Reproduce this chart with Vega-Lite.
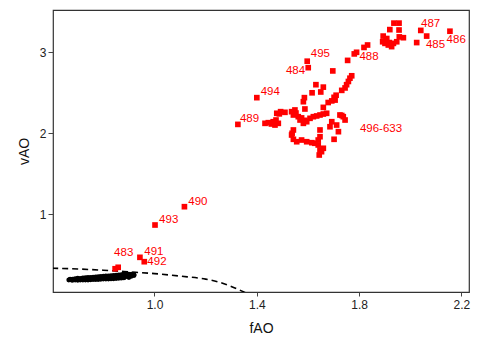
{
  "$schema": "https://vega.github.io/schema/vega-lite/v6.json",
  "width": 416,
  "height": 282,
  "autosize": {"type": "none"},
  "padding": {"left": 53, "top": 10, "right": 22, "bottom": 47},
  "background": "white",
  "config": {
    "view": {"stroke": "#333", "strokeWidth": 1.2},
    "font": "Liberation Sans",
    "axis": {
      "domain": false,
      "grid": false,
      "labelFont": "Liberation Sans",
      "labelFontSize": 12,
      "labelColor": "#222",
      "tickColor": "#444",
      "titleFont": "Liberation Sans",
      "titleFontSize": 14,
      "titleFontWeight": "normal",
      "titleColor": "#111"
    }
  },
  "datasets": {
    "curve": [
      {"x": 0.60, "y": 0.335}, {"x": 0.70, "y": 0.325}, {"x": 0.80, "y": 0.31},
      {"x": 0.90, "y": 0.29}, {"x": 1.00, "y": 0.268}, {"x": 1.10, "y": 0.237},
      {"x": 1.20, "y": 0.20}, {"x": 1.25, "y": 0.165}, {"x": 1.30, "y": 0.11},
      {"x": 1.34, "y": 0.055}, {"x": 1.37, "y": 0.01}
    ],
    "black": [
      {"x": 0.665, "y": 0.19}, {"x": 0.67, "y": 0.2}, {"x": 0.675, "y": 0.19}, {"x": 0.68, "y": 0.185}, {"x": 0.68, "y": 0.2},
      {"x": 0.685, "y": 0.195}, {"x": 0.69, "y": 0.19}, {"x": 0.69, "y": 0.205}, {"x": 0.695, "y": 0.195}, {"x": 0.70, "y": 0.185}, {"x": 0.70, "y": 0.2},
      {"x": 0.70, "y": 0.21}, {"x": 0.705, "y": 0.195}, {"x": 0.71, "y": 0.19}, {"x": 0.71, "y": 0.207}, {"x": 0.715, "y": 0.2},
      {"x": 0.72, "y": 0.19}, {"x": 0.72, "y": 0.205}, {"x": 0.72, "y": 0.215}, {"x": 0.725, "y": 0.197},
      {"x": 0.73, "y": 0.19}, {"x": 0.73, "y": 0.205}, {"x": 0.73, "y": 0.218}, {"x": 0.735, "y": 0.198},
      {"x": 0.74, "y": 0.19}, {"x": 0.74, "y": 0.205}, {"x": 0.74, "y": 0.22}, {"x": 0.745, "y": 0.2},
      {"x": 0.75, "y": 0.192}, {"x": 0.75, "y": 0.207}, {"x": 0.75, "y": 0.222}, {"x": 0.755, "y": 0.2},
      {"x": 0.76, "y": 0.195}, {"x": 0.76, "y": 0.21}, {"x": 0.76, "y": 0.225}, {"x": 0.765, "y": 0.203},
      {"x": 0.77, "y": 0.195}, {"x": 0.77, "y": 0.212}, {"x": 0.77, "y": 0.228}, {"x": 0.775, "y": 0.205},
      {"x": 0.78, "y": 0.195}, {"x": 0.78, "y": 0.21}, {"x": 0.78, "y": 0.23}, {"x": 0.785, "y": 0.208},
      {"x": 0.79, "y": 0.198}, {"x": 0.79, "y": 0.22}, {"x": 0.79, "y": 0.232}, {"x": 0.795, "y": 0.21},
      {"x": 0.80, "y": 0.2}, {"x": 0.80, "y": 0.215}, {"x": 0.80, "y": 0.235}, {"x": 0.805, "y": 0.212},
      {"x": 0.81, "y": 0.2}, {"x": 0.81, "y": 0.225}, {"x": 0.81, "y": 0.238}, {"x": 0.815, "y": 0.215},
      {"x": 0.82, "y": 0.2}, {"x": 0.82, "y": 0.22}, {"x": 0.82, "y": 0.24}, {"x": 0.825, "y": 0.218},
      {"x": 0.83, "y": 0.203}, {"x": 0.83, "y": 0.23}, {"x": 0.83, "y": 0.243}, {"x": 0.835, "y": 0.22},
      {"x": 0.84, "y": 0.205}, {"x": 0.84, "y": 0.225}, {"x": 0.84, "y": 0.245}, {"x": 0.845, "y": 0.222},
      {"x": 0.85, "y": 0.207}, {"x": 0.85, "y": 0.235}, {"x": 0.85, "y": 0.248}, {"x": 0.855, "y": 0.225},
      {"x": 0.86, "y": 0.21}, {"x": 0.86, "y": 0.23}, {"x": 0.86, "y": 0.25}, {"x": 0.865, "y": 0.228},
      {"x": 0.87, "y": 0.212}, {"x": 0.87, "y": 0.24}, {"x": 0.87, "y": 0.255}, {"x": 0.875, "y": 0.232},
      {"x": 0.88, "y": 0.215}, {"x": 0.88, "y": 0.235}, {"x": 0.88, "y": 0.255}, {"x": 0.88, "y": 0.27},
      {"x": 0.885, "y": 0.225}, {"x": 0.89, "y": 0.245}, {"x": 0.89, "y": 0.262}, {"x": 0.895, "y": 0.235},
      {"x": 0.90, "y": 0.22}, {"x": 0.90, "y": 0.24}, {"x": 0.90, "y": 0.26}, {"x": 0.905, "y": 0.25},
      {"x": 0.91, "y": 0.235}, {"x": 0.91, "y": 0.26}, {"x": 0.915, "y": 0.25}, {"x": 0.92, "y": 0.245}, {"x": 0.92, "y": 0.258}
    ],
    "red": [
      {"x": 1.936, "y": 3.36}, {"x": 1.956, "y": 3.36}, {"x": 1.920, "y": 3.28}, {"x": 1.956, "y": 3.275},
      {"x": 1.894, "y": 3.20}, {"x": 1.908, "y": 3.17}, {"x": 1.892, "y": 3.13}, {"x": 1.901, "y": 3.11},
      {"x": 1.914, "y": 3.09}, {"x": 1.927, "y": 3.07}, {"x": 1.934, "y": 3.11}, {"x": 1.947, "y": 3.13},
      {"x": 1.957, "y": 3.19}, {"x": 1.973, "y": 3.18}, {"x": 1.905, "y": 3.14}, {"x": 1.918, "y": 3.12},
      {"x": 2.041, "y": 3.27}, {"x": 2.064, "y": 3.20}, {"x": 2.025, "y": 3.12}, {"x": 2.155, "y": 3.26},
      {"x": 1.833, "y": 3.09}, {"x": 1.819, "y": 3.06}, {"x": 1.790, "y": 3.00}, {"x": 1.781, "y": 2.98},
      {"x": 1.755, "y": 2.90},
      {"x": 1.597, "y": 2.89}, {"x": 1.601, "y": 2.81}, {"x": 1.697, "y": 2.77},
      {"x": 1.771, "y": 2.71}, {"x": 1.764, "y": 2.68}, {"x": 1.758, "y": 2.64}, {"x": 1.751, "y": 2.60},
      {"x": 1.745, "y": 2.56}, {"x": 1.732, "y": 2.53},
      {"x": 1.631, "y": 2.60}, {"x": 1.660, "y": 2.57}, {"x": 1.650, "y": 2.51}, {"x": 1.616, "y": 2.50},
      {"x": 1.710, "y": 2.47}, {"x": 1.706, "y": 2.41}, {"x": 1.586, "y": 2.44}, {"x": 1.582, "y": 2.39},
      {"x": 1.679, "y": 2.38}, {"x": 1.400, "y": 2.44}, {"x": 1.588, "y": 2.30}, {"x": 1.660, "y": 2.32},
      {"x": 1.702, "y": 2.444}, {"x": 1.693, "y": 2.40},
      {"x": 1.432, "y": 2.123}, {"x": 1.445, "y": 2.131}, {"x": 1.464, "y": 2.143}, {"x": 1.475, "y": 2.164},
      {"x": 1.478, "y": 2.247}, {"x": 1.493, "y": 2.267}, {"x": 1.510, "y": 2.259}, {"x": 1.471, "y": 2.102},
      {"x": 1.484, "y": 2.123}, {"x": 1.457, "y": 2.115}, {"x": 1.488, "y": 2.24},
      {"x": 1.536, "y": 2.267}, {"x": 1.549, "y": 2.288}, {"x": 1.543, "y": 2.226}, {"x": 1.562, "y": 2.205},
      {"x": 1.569, "y": 2.164}, {"x": 1.582, "y": 2.123}, {"x": 1.595, "y": 2.143}, {"x": 1.608, "y": 2.185},
      {"x": 1.621, "y": 2.205}, {"x": 1.634, "y": 2.214}, {"x": 1.647, "y": 2.226}, {"x": 1.660, "y": 2.238},
      {"x": 1.673, "y": 2.247}, {"x": 1.553, "y": 2.25}, {"x": 1.575, "y": 2.19}, {"x": 1.588, "y": 2.16},
      {"x": 1.543, "y": 2.041}, {"x": 1.536, "y": 1.979}, {"x": 1.543, "y": 1.926}, {"x": 1.556, "y": 1.896},
      {"x": 1.575, "y": 1.917}, {"x": 1.595, "y": 1.896}, {"x": 1.615, "y": 1.884}, {"x": 1.627, "y": 1.877},
      {"x": 1.640, "y": 1.856}, {"x": 1.647, "y": 1.794}, {"x": 1.644, "y": 1.732}, {"x": 1.653, "y": 1.773},
      {"x": 1.647, "y": 2.041}, {"x": 1.647, "y": 1.958}, {"x": 1.640, "y": 1.917}, {"x": 1.538, "y": 2.0},
      {"x": 1.725, "y": 2.226}, {"x": 1.738, "y": 2.205}, {"x": 1.745, "y": 2.164}, {"x": 1.693, "y": 2.143},
      {"x": 1.686, "y": 2.081}, {"x": 1.712, "y": 2.102}, {"x": 1.719, "y": 2.020}, {"x": 1.702, "y": 1.926},
      {"x": 1.660, "y": 1.815}, {"x": 1.732, "y": 2.22},
      {"x": 1.326, "y": 2.11},
      {"x": 1.117, "y": 1.094}, {"x": 1.002, "y": 0.868}, {"x": 0.943, "y": 0.469}, {"x": 0.960, "y": 0.415},
      {"x": 0.846, "y": 0.328}, {"x": 0.858, "y": 0.346}
    ],
    "labels": [
      {"x": 2.042, "y": 3.349, "label": "487"},
      {"x": 2.061, "y": 3.096, "label": "485"},
      {"x": 2.142, "y": 3.156, "label": "486"},
      {"x": 1.801, "y": 2.942, "label": "488"},
      {"x": 1.611, "y": 2.979, "label": "495"},
      {"x": 1.514, "y": 2.772, "label": "484"},
      {"x": 1.415, "y": 2.514, "label": "494"},
      {"x": 1.334, "y": 2.177, "label": "489"},
      {"x": 1.803, "y": 2.053, "label": "496-633"},
      {"x": 1.132, "y": 1.146, "label": "490"},
      {"x": 1.018, "y": 0.930, "label": "493"},
      {"x": 0.960, "y": 0.540, "label": "491"},
      {"x": 0.972, "y": 0.410, "label": "492"},
      {"x": 0.842, "y": 0.522, "label": "483"}
    ]
  },
  "encoding": {
    "x": {
      "field": "x", "type": "quantitative",
      "scale": {"domain": [0.6032, 2.2295], "nice": false, "zero": false},
      "axis": {"values": [1.0, 1.4, 1.8, 2.2], "format": ".1f", "title": "fAO", "tickSize": 4, "labelPadding": 3, "titlePadding": 11}
    },
    "y": {
      "field": "y", "type": "quantitative",
      "scale": {"domain": [0.041, 3.522], "nice": false, "zero": false},
      "axis": {"values": [1, 2, 3], "format": "d", "title": "vAO", "tickSize": 5, "labelPadding": 2, "titlePadding": 8}
    }
  },
  "layer": [
    {
      "data": {"name": "curve"},
      "mark": {"type": "line", "color": "black", "strokeWidth": 1.6, "strokeDash": [6, 4], "interpolate": "monotone", "clip": true}
    },
    {
      "data": {"name": "black"},
      "mark": {"type": "circle", "color": "black", "size": 24, "opacity": 1}
    },
    {
      "data": {"name": "red"},
      "mark": {"type": "square", "color": "#ff0000", "size": 32, "opacity": 1}
    },
    {
      "data": {"name": "labels"},
      "mark": {"type": "text", "color": "#ff0000", "fontSize": 11.5, "font": "Liberation Sans", "align": "left", "baseline": "middle"},
      "encoding": {"text": {"field": "label"}}
    }
  ]
}
